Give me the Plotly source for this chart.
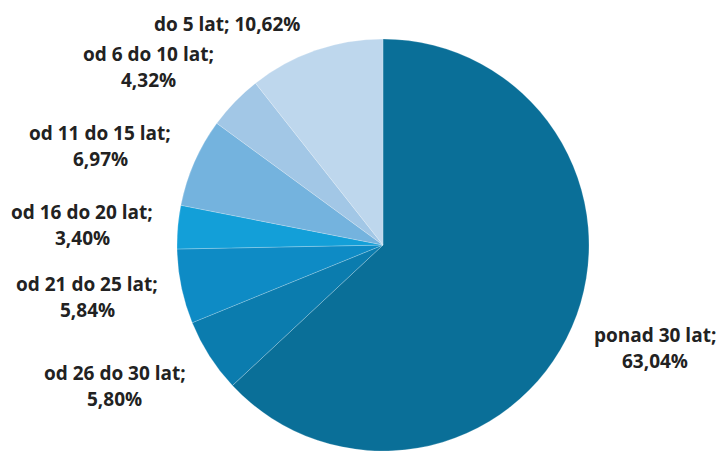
import plotly.graph_objects as go

# Share of items by age group (clockwise from 12 o'clock)
categories = ["ponad 30 lat", "od 26 do 30 lat", "od 21 do 25 lat", "od 16 do 20 lat",
              "od 11 do 15 lat", "od 6 do 10 lat", "do 5 lat"]
shares = [63.04, 5.80, 5.84, 3.40, 6.97, 4.32, 10.62]
colors = ["#0A6F98", "#0B7CAE", "#0E8BC5", "#139FD8", "#74B3DE", "#A2C7E6", "#BED7ED"]

W, H = 720, 451
cx, cy, r = 383, 245, 206  # pie centre and radius in pixels

fig = go.Figure(go.Pie(
    labels=categories,
    values=shares,
    sort=False,
    direction="clockwise",
    rotation=0,
    marker=dict(colors=colors, line=dict(color="rgba(255,255,255,0.35)", width=0.6)),
    textinfo="none",
    hoverinfo="label+value",
    domain=dict(x=[(cx - r) / W, (cx + r) / W], y=[(H - cy - r) / H, (H - cy + r) / H]),
    showlegend=False,
))

def pct(v):
    return f"{v:.2f}".replace(".", ",") + "%"

# label anchor positions (pixels): (x centre, y of first line, single line?)
label_pos = {
    "ponad 30 lat": (655, 335, False),
    "od 26 do 30 lat": (115, 373, False),
    "od 21 do 25 lat": (87, 284, False),
    "od 16 do 20 lat": (82, 212, False),
    "od 11 do 15 lat": (100, 133, False),
    "od 6 do 10 lat": (148, 54, False),
    "do 5 lat": (227, 24, True),
}
line_gap = 25.5
font = dict(family="Open Sans", size=19, color="#222222")

for cat, val in zip(categories, shares):
    x, y, single = label_pos[cat]
    lines = [f"<b>{cat}; {pct(val)}</b>"] if single else [f"<b>{cat};</b>", f"<b>{pct(val)}</b>"]
    for i, t in enumerate(lines):
        fig.add_annotation(
            x=x / W, y=1 - (y + i * line_gap) / H, xref="paper", yref="paper",
            text=t, showarrow=False, xanchor="center", yanchor="middle", font=font,
        )

fig.update_layout(
    width=W, height=H,
    margin=dict(l=0, r=0, t=0, b=0),
    paper_bgcolor="white", plot_bgcolor="white",
)

fig.write_html("out.html")
